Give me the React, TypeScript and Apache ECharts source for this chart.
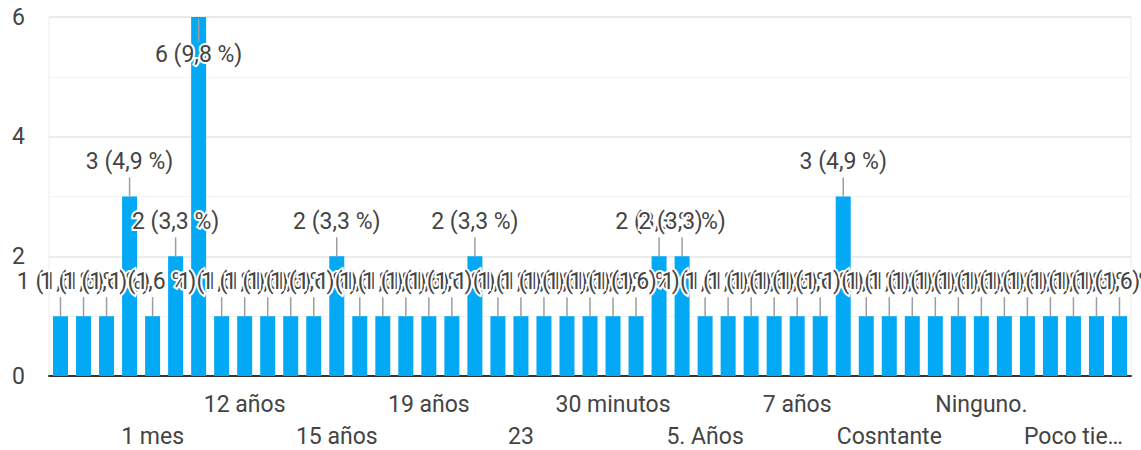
import React, { useEffect, useRef } from "react";
import * as echarts from "echarts";

const categories = [
  "1 año", "1 año y medio", "1 día", "1 hora", "1 mes", "10", "10 años", "11 años",
  "12 años", "13 años", "14 años", "15", "15 años", "16 años", "17 años", "18 años",
  "19 años", "2 años", "20 años", "22 años", "23", "25 años", "3 años", "3 meses",
  "30 minutos", "4", "4 años", "5 años", "5. Años", "6 años", "6 meses", "7",
  "7 años", "8 años", "Años", "Casi siempre", "Cosntante", "Desde niño", "Mucho tiempo", "Nada",
  "Ninguno.", "No", "No sé", "Nunca", "Poco tiempo", "Siempre", "Toda la vida",
];

const values = [
  1, 1, 1, 3, 1, 2, 6, 1,
  1, 1, 1, 1, 2, 1, 1, 1,
  1, 1, 2, 1, 1, 1, 1, 1,
  1, 1, 2, 2, 1, 1, 1, 1,
  1, 1, 3, 1, 1, 1, 1, 1,
  1, 1, 1, 1, 1, 1, 1,
];

const yTicks = [0, 2, 4, 6];

const FONT = "Roboto, Arial, sans-serif";
const TEXT = "#444444";
const BAR = "#03a9f4";

export default function App() {
  const ref = useRef<HTMLDivElement>(null);

  useEffect(() => {
    document.body.style.margin = "0";
    const chart = echarts.init(ref.current!, undefined, { renderer: "svg" });
    const total = values.reduce((a, b) => a + b, 0);
    const labelText = (v: number) =>
      `${v} (${((v / total) * 100).toFixed(1).replace(".", ",")} %)`;
    const gridTop = 17;
    const shortLabel = (value: string) =>
      value.length > 10 ? value.slice(0, 8) + "…" : value;

    const labelBase = {
      formatter: shortLabel,
      color: TEXT,
      fontFamily: FONT,
      fontSize: 23,
      hideOverlap: false,
      showMinLabel: true,
      showMaxLabel: true,
    };

    chart.setOption({
      animation: false,
      grid: {
        left: 49,
        right: 10,
        top: gridTop,
        bottom: 74,
        show: true,
        borderColor: "#ececec",
        borderWidth: 1,
      },
      xAxis: [
        {
          type: "category",
          data: categories,
          position: "bottom",
          axisLine: { show: true, lineStyle: { color: "#333333", width: 2 } },
          axisTick: { show: false },
          splitLine: { show: false },
          axisLabel: {
            ...labelBase,
            interval: (index: number) => index % 8 === 0 && index > 0,
            margin: 17,
          },
        },
        {
          type: "category",
          data: categories,
          position: "bottom",
          offset: 0,
          axisLine: { show: false },
          axisTick: { show: false },
          splitLine: { show: false },
          axisLabel: {
            ...labelBase,
            interval: (index: number) => index % 8 === 4,
            margin: 49,
          },
        },
      ],
      yAxis: {
        type: "value",
        min: yTicks[0],
        max: yTicks[yTicks.length - 1],
        interval: 2,
        axisLine: { show: false },
        axisTick: { show: false },
        axisLabel: {
          color: TEXT,
          fontFamily: FONT,
          fontSize: 23,
          margin: 24,
        },
        splitLine: { show: true, lineStyle: { color: "#e6e6e6", width: 1.5 } },
        minorTick: { show: false, splitNumber: 2 },
        minorSplitLine: { show: true, lineStyle: { color: "#f3f3f3", width: 1 } },
      },
      series: [
        {
          type: "bar",
          data: values,
          xAxisIndex: 0,
          barWidth: 15,
          itemStyle: { color: BAR },
          z: 2,
        },
        {
          type: "custom",
          clip: false,
          z: 5,
          xAxisIndex: 0,
          data: values.map((v, i) => [i, v]),
          encode: { x: 0, y: 1 },
          renderItem: (params: any, api: any) => {
            const i = api.value(0);
            const v = api.value(1);
            const p = api.coord([i, v]);
            const inside = p[1] - 50 < gridTop;
            const lineY1 = inside ? p[1] + 2 : p[1] - 19;
            const lineY2 = inside ? p[1] + 25 : p[1];
            const textY = inside ? p[1] + 37 : p[1] - 35;
            return {
              type: "group",
              children: [
                {
                  type: "line",
                  shape: { x1: p[0], y1: lineY1, x2: p[0], y2: lineY2 },
                  style: { stroke: "#9e9e9e", lineWidth: 1.5 },
                },
                {
                  type: "text",
                  x: p[0],
                  y: textY,
                  style: {
                    text: labelText(v),
                    fill: TEXT,
                    fontFamily: FONT,
                    fontSize: 23,
                    align: "center",
                    verticalAlign: "middle",
                    stroke: "#ffffff",
                    lineWidth: 4,
                  },
                },
              ],
            };
          },
        },
      ],
    });
    return () => chart.dispose();
  }, []);

  return <div ref={ref} style={{ width: 1141, height: 450 }} />;
}
